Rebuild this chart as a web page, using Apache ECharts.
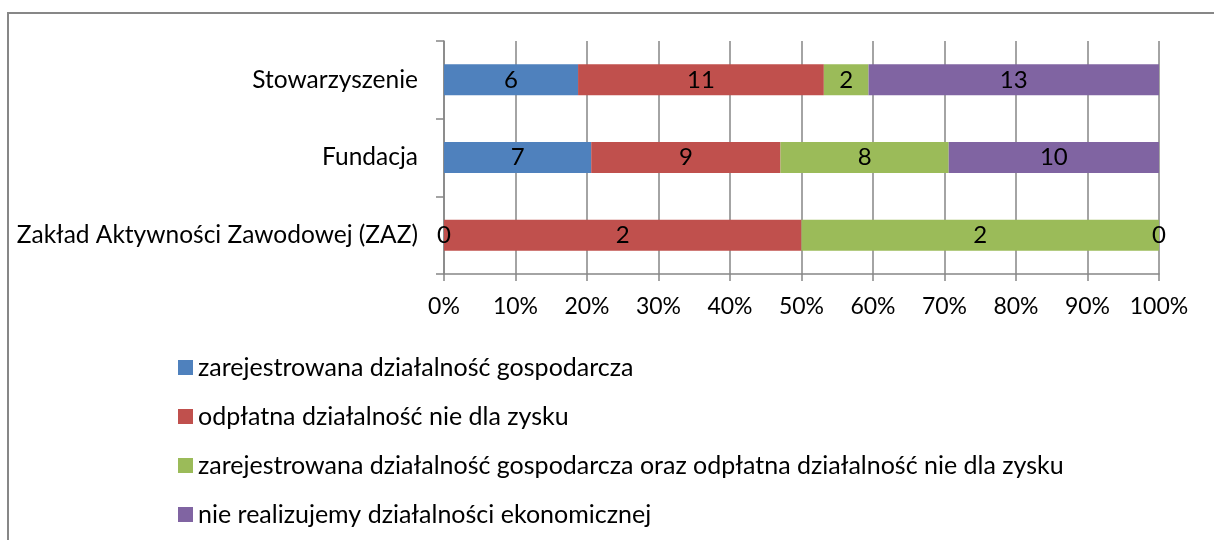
<!DOCTYPE html>
<html>
<head>
<meta charset="utf-8">
<script src="https://cdn.jsdelivr.net/npm/echarts@6/dist/echarts.min.js"></script>
<style>
html, body { margin: 0; padding: 0; background: #fff; }
#chart { width: 1214px; height: 540px; }
</style>
</head>
<body>
<div id="chart"></div>
<script>
"use strict";
// kategorie (od dołu do góry, jak w osi kategorii echarts)
var categories = ['Zakład Aktywności Zawodowej (ZAZ)', 'Fundacja', 'Stowarzyszenie'];
var seriesNames = [
	'zarejestrowana działalność gospodarcza',
	'odpłatna działalność nie dla zysku',
	'zarejestrowana działalność gospodarcza oraz odpłatna działalność nie dla zysku',
	'nie realizujemy działalności ekonomicznej'
];
// liczby organizacji dla każdej kategorii
var gospodarcza = [0, 7, 6];
var odplatna = [2, 9, 11];
var obie = [2, 8, 2];
var brak = [0, 10, 13];
var colors = ['#4F81BD', '#C0504D', '#9BBB59', '#8064A2'];
var FONT = 'Lato';

var raw = [gospodarcza, odplatna, obie, brak];
var totals = categories.map(function (c, i) {
	var s = 0;
	for (var k = 0; k < raw.length; k++) s += raw[k][i];
	return s;
});

var series = [];
for (var k = 0; k < raw.length; k++) {
	series.push({
		name: seriesNames[k],
		type: 'bar',
		stack: 'all',
		barWidth: '40%',
		itemStyle: { color: colors[k] },
		label: {
			show: true,
			position: 'inside',
			color: '#000',
			fontFamily: FONT,
			fontSize: 24,
			formatter: function (p) { return p.data.raw; }
		},
		data: raw[k].map(function (v, i) {
			return { value: v / totals[i] * 100, raw: v };
		})
	});
}

var myChart = echarts.init(document.getElementById('chart'));
var option = {
	animation: false,
	color: colors,
	grid: { left: 444, right: 55, top: 41, bottom: 266, containLabel: false },
	legend: {
		orient: 'vertical',
		left: 173,
		top: 350,
		itemWidth: 15,
		itemHeight: 15,
		itemGap: 24,
		icon: 'rect',
		textStyle: { fontFamily: FONT, fontSize: 25, color: '#000', lineHeight: 24 },
		data: seriesNames
	},
	xAxis: {
		type: 'value',
		min: 0,
		max: 100,
		interval: 10,
		axisLine: { show: true, lineStyle: { color: '#868686', width: 1.5 } },
		axisTick: { show: true, length: 7, lineStyle: { color: '#868686', width: 1.5 } },
		splitLine: { show: true, lineStyle: { color: '#868686', width: 1.5 } },
		axisLabel: { margin: 21, color: '#000', fontFamily: FONT, fontSize: 23, formatter: '{value}%' }
	},
	yAxis: {
		type: 'category',
		data: categories,
		axisLine: { show: true, lineStyle: { color: '#868686', width: 1.5 } },
		axisTick: { show: true, length: 8, lineStyle: { color: '#868686', width: 1.5 } },
		axisLabel: { margin: 26, color: '#000', fontFamily: FONT, fontSize: 24.5 }
	},
	graphic: [{
		type: 'rect',
		shape: { x: 8, y: 13, width: 1400, height: 800 },
		style: { fill: 'none', stroke: '#878787', lineWidth: 2 },
		silent: true
	}],
	series: series
};
myChart.setOption(option);
</script>
</body>
</html>
